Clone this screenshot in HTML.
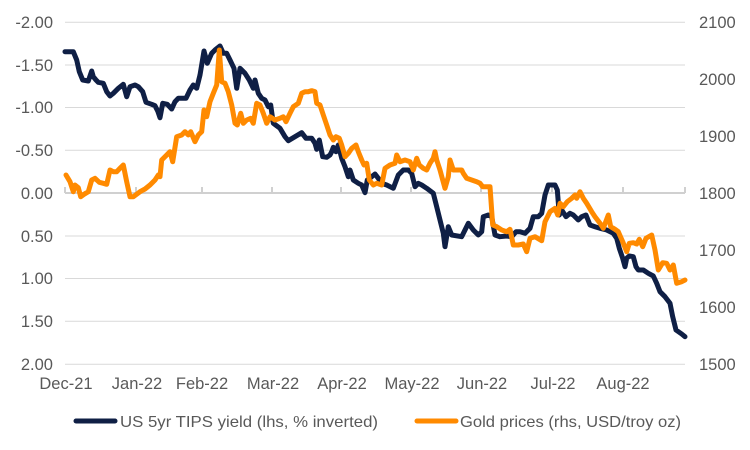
<!DOCTYPE html>
<html><head><meta charset="utf-8"><style>
html,body{margin:0;padding:0;background:#fff;}
svg{display:block;}
text{font-family:"Liberation Sans",Arial,sans-serif;font-size:16px;fill:#595959;}
.ax{font-size:16.5px;}
</style></head><body>
<svg width="750" height="450" viewBox="0 0 750 450" xmlns="http://www.w3.org/2000/svg">
<g stroke="#d9d9d9" stroke-width="1">
<line x1="65" y1="22.3" x2="685" y2="22.3"/>
<line x1="65" y1="65" x2="685" y2="65"/>
<line x1="65" y1="107.5" x2="685" y2="107.5"/>
<line x1="65" y1="150.3" x2="685" y2="150.3"/>
<line x1="65" y1="236" x2="685" y2="236"/>
<line x1="65" y1="278.5" x2="685" y2="278.5"/>
<line x1="65" y1="321.3" x2="685" y2="321.3"/>
<line x1="65" y1="364.3" x2="685" y2="364.3"/>
</g>
<g stroke="#d0d0d0" stroke-width="2">
<line x1="65" y1="193" x2="685" y2="193"/>
<line x1="65" y1="187" x2="65" y2="193"/>
<line x1="136" y1="187" x2="136" y2="193"/>
<line x1="202" y1="187" x2="202" y2="193"/>
<line x1="272" y1="187" x2="272" y2="193"/>
<line x1="341" y1="187" x2="341" y2="193"/>
<line x1="411" y1="187" x2="411" y2="193"/>
<line x1="481" y1="187" x2="481" y2="193"/>
<line x1="552" y1="187" x2="552" y2="193"/>
<line x1="623" y1="187" x2="623" y2="193"/>
<line x1="685" y1="187" x2="685" y2="193"/>
</g>
<g text-anchor="end" class="ax">
<text class="ax" x="53" y="28">-2.00</text>
<text class="ax" x="53" y="71">-1.50</text>
<text class="ax" x="53" y="113">-1.00</text>
<text class="ax" x="53" y="156">-0.50</text>
<text class="ax" x="53" y="199">0.00</text>
<text class="ax" x="53" y="242">0.50</text>
<text class="ax" x="53" y="284">1.00</text>
<text class="ax" x="53" y="327">1.50</text>
<text class="ax" x="53" y="370">2.00</text>
</g>
<g>
<text class="ax" x="699" y="28">2100</text>
<text class="ax" x="699" y="85">2000</text>
<text class="ax" x="699" y="142">1900</text>
<text class="ax" x="699" y="199">1800</text>
<text class="ax" x="699" y="256">1700</text>
<text class="ax" x="699" y="313">1600</text>
<text class="ax" x="699" y="370">1500</text>
</g>
<g text-anchor="middle">
<text class="ax" x="66" y="389">Dec-21</text>
<text class="ax" x="137" y="389">Jan-22</text>
<text class="ax" x="202" y="389">Feb-22</text>
<text class="ax" x="273" y="389">Mar-22</text>
<text class="ax" x="342" y="389">Apr-22</text>
<text class="ax" x="412" y="389">May-22</text>
<text class="ax" x="482" y="389">Jun-22</text>
<text class="ax" x="553" y="389">Jul-22</text>
<text class="ax" x="623" y="389">Aug-22</text>
</g>
<polyline fill="none" stroke="#0f1f45" stroke-width="5" stroke-linejoin="round" stroke-linecap="round" points="65,51.7 73.3,51.7 76.7,60 79.3,71.7 82.7,80 88.3,81 91.7,71 93.3,76.7 96,80 98.3,82.3 103.3,83.3 106.7,91.7 110,96 113.3,93.3 118.3,88.3 123.3,84.3 126.7,96.7 130,86.7 135,85 138.3,86.7 142.7,91.7 146,102.3 151.7,104.3 155,105.7 157.7,111 160,117.7 162.7,103.3 167.3,104.3 171.7,109 175,101.7 178.3,98.3 186,98.3 190,90 193.3,85 196.7,88.3 200,75 204,51 207.3,63.3 211.7,53.3 215,50 220,46 223.3,53.3 226.7,53.3 230,60 234,68.3 236.7,88.3 240,68.3 245,73.3 249.3,80 253.3,88.3 255,80 258.3,93.3 261.7,98.3 265,100 268.3,106.7 270.7,105 273.3,123.3 280,128.3 285,136.7 288.3,140.7 295,136.7 301.7,132.7 306,138.3 311.7,138.3 315,143.3 316.7,149.3 319.3,140 322.7,156.7 326.7,157.3 330,155 331.7,151.7 333.3,147.3 336,151.7 338.3,145 341.7,158.3 345,166.7 348.3,176.7 350,170 353.3,180 358.3,183.3 361.7,185 365,192.7 367.3,180 371.7,176.7 375,174 378.3,178.3 381.7,183.3 386.7,185 393.3,188.3 398.3,175 403.3,170 408.3,170 411.7,173.3 415,186.7 418.3,183.3 421.7,185 426.7,188.3 433.3,193.3 436.7,206.7 440,220 443.3,233.3 445,246.7 448.3,226.7 451.7,235 461.7,236.7 465,230 468.3,223.3 473.3,230 478.3,235 481.7,231.7 483.3,216.7 488.3,215 491.7,216.7 495,235 500,236.7 506.7,236 511.7,236.7 516,231.7 520,231.7 525,233.3 530,228.3 533.3,216.7 538.3,216.7 541.7,213.3 545,195 548.3,185 555,185 557.3,190 559.3,215 561.7,210 566,216.7 570,213.3 573.3,215 578.3,220 581.7,216.7 586,215 590,225 595,226.7 600,228.3 606.7,230 613.3,233.3 616.7,238.3 619.3,248.3 622.7,258.3 625,266.7 626.7,258.3 629.3,256 633.3,256.7 636,266.7 638.3,270 643.3,270 648.3,273.3 653.3,276 656.7,283.3 660,291.7 665,296.7 670,303.3 672.7,316.7 676,330 681.7,334 685,336.7"/>
<polyline fill="none" stroke="#ff8a00" stroke-width="5" stroke-linejoin="round" stroke-linecap="round" points="66,175 70,181.7 73.3,191.7 75,185 78.3,187.7 80.7,196.7 84,194.3 88.3,191.7 91.7,180 95,178.3 99.3,182.3 103.3,183.3 106.7,184.3 110,170 113.3,171.7 116.7,171.7 120,168.3 123.3,165 126.7,181.7 130,196.7 133.3,196.7 140,191.7 145,189 150,185 155,180 158.3,175 160,176.7 161.7,160 166.7,155 170,151.7 172.7,161.7 176.7,136.7 181.7,135 185,131.7 188.3,135 190.7,131.7 195,141.7 198.3,135 201.7,131.7 204,110 206.7,116.7 210,101.7 213.3,93.3 216.7,85 219.3,50 221.7,81.7 225,83.3 228.3,91.7 231.7,105 235,123.3 237.3,125 240.7,113.3 243.3,123.3 246.7,120 250.7,118.3 253.3,123.3 256.7,103.3 260,105 263.3,113.3 266.7,123.3 270,116.7 275,120 280,118.3 283.3,116.7 286,121.7 290,113.3 293.3,106.7 298.3,103.3 301.7,93.3 305,91.7 308.3,91.7 311.7,90.7 315,91.7 316.7,103.3 320,105 323.3,115 326.7,125 330,135 333.3,140 336,136.7 339.3,138.3 341.7,145 345,156.7 348.3,153.3 351.7,148.3 356,145 358.3,151.7 361.7,160 364,165 366.7,163.3 369.3,180 373.3,185 376.7,183.3 381.7,185 385,168.3 390,165 395,163.3 396.7,155 400,161.7 405,160 410,161.7 413.3,170 416.7,158.3 419.3,165 423.3,168.3 426.7,170 430,163.3 433.3,158.3 435,151.7 436.7,160 440,170 442.7,180 445,188.3 448.3,176.7 450,160 453.3,170 456.7,170 461.7,170 463.3,173.3 466.7,178.3 471.7,180 476.7,181.7 480,183.3 482.7,186.7 490,186.7 492.7,225 496.7,226.7 501.7,230 506.7,231.7 510,229.3 513.3,245 518.3,245 523.3,244 526.7,251.7 530,238.3 535,236.7 541.7,240.7 545,221.7 550,211.7 555,208.3 557.7,215 560,203.3 563.3,206.7 567.3,201.7 571.7,198.3 575,195 576.7,198.3 580,191.7 583.3,198.3 586.7,203.3 591.7,211.7 595,216.7 600,223.3 603.3,228.3 608.3,215 610.7,226.7 615,229.3 618.3,231.7 622.7,241.7 626.7,251.7 629.3,243.3 633.3,242.7 636.7,244 639.3,239.3 642.7,246.7 646,238.3 651.7,235 655,250 658.3,270 662.7,262.7 666.7,263.3 670,270 673.3,265 676.7,283.3 681.7,281.7 685,280"/>
<line x1="76" y1="421" x2="115" y2="421" stroke="#0f1f45" stroke-width="5" stroke-linecap="round"/>
<text x="120" y="427" textLength="258" lengthAdjust="spacingAndGlyphs">US 5yr TIPS yield (lhs, % inverted)</text>
<line x1="417" y1="421" x2="456" y2="421" stroke="#ff8a00" stroke-width="5" stroke-linecap="round"/>
<text x="460" y="427" textLength="221" lengthAdjust="spacingAndGlyphs">Gold prices (rhs, USD/troy oz)</text>
</svg>
</body></html>
